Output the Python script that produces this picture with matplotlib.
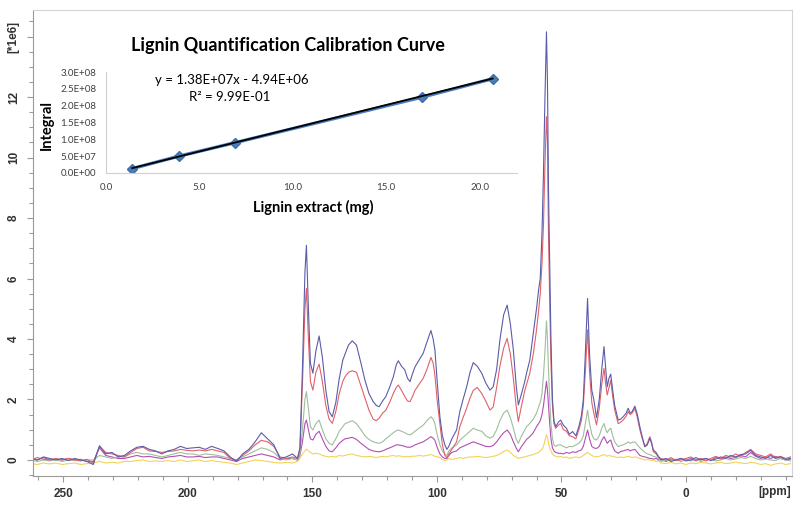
import numpy as np
import matplotlib.pyplot as plt
from matplotlib.ticker import MultipleLocator

# ---- spectrum data (ppm, intensity in units of 1e6) ----
ppm_a = [263.0, 260.5, 258.0, 255.5, 253.0, 250.5, 248.0, 245.5, 243.0, 240.5,
         238.0, 235.5, 233.0, 230.5, 228.0, 225.5, 223.0, 220.5, 218.0, 215.5,
         213.0, 210.5, 208.0, 205.5, 203.0, 200.5, 198.0, 195.5, 193.0, 190.5,
         188.0, 185.5, 183.0, 180.5, 178.0, 175.5, 173.0, 170.5, 168.0, 165.5,
         163.0, 160.5, 158.0]
ppm_b = [156.0, 155.0, 154.0, 153.0, 152.4, 151.6, 150.8, 149.8, 148.6, 147.3,
         146.0, 144.6, 143.3, 142.0, 140.6, 139.2, 137.8, 136.9, 135.5, 134.0,
         132.3, 130.5, 128.9, 127.3, 125.6, 124.3, 123.2, 121.8, 120.5, 119.0,
         117.5, 116.3, 115.5, 114.2, 112.9, 111.8, 110.8, 109.8, 108.8, 107.2,
         105.5, 104.0, 102.4, 101.5, 100.8, 99.8, 98.8, 97.8, 96.8, 96.0,
         95.2, 94.0, 92.1, 90.8, 89.5, 88.1, 86.7, 85.4, 83.8, 82.0,
         80.4, 78.7, 77.4, 76.0, 74.7, 73.2, 71.8, 70.5, 69.3, 68.2,
         67.3, 66.0, 64.7, 64.0, 62.7, 61.3, 60.0, 59.2, 58.5, 57.8,
         57.2, 56.6, 56.0, 55.6, 55.2, 54.7, 54.2, 53.6, 53.0, 52.3,
         51.2, 50.3, 49.2, 48.0, 46.8, 45.5, 44.2, 43.0, 42.0, 41.2,
         40.4, 39.5, 38.7, 37.8, 37.0, 35.9, 34.8, 33.8, 32.9, 32.2,
         31.6, 30.9, 30.2, 29.4, 28.6, 27.2, 26.2, 25.2, 24.0, 23.2,
         22.4, 21.6, 20.5, 19.5, 18.5, 17.5, 16.5, 15.5, 14.5, 13.8,
         13.1, 12.0, 11.0]
ppm_c = [10, 8, 6, 4, 2, 0, -2, -4, -6, -8, -10, -12, -14, -16, -18, -20,
         -22, -24, -26, -28, -30, -32, -34, -36, -38, -40, -42]

blue = ([0.05, 0.0, 0.1, 0.05, 0.0, 0.05, -0.02, 0.05, 0.0, -0.05,
         -0.15, 0.47, 0.2, 0.25, 0.1, 0.15, 0.3, 0.42, 0.45, 0.35,
         0.3, 0.2, 0.3, 0.35, 0.45, 0.38, 0.4, 0.42, 0.35, 0.45,
         0.38, 0.3, 0.1, -0.05, 0.2, 0.35, 0.6, 0.9, 0.7, 0.5,
         0.05, 0.1, 0.2]
        + [0.05, 0.4, 3.0, 6.2, 7.1, 5.0, 3.2, 2.87, 3.6, 4.1,
           3.4, 2.3, 1.6, 1.43, 1.9, 2.7, 3.3, 3.5, 3.8, 3.94,
           3.8, 3.2, 2.64, 2.2, 1.93, 1.8, 1.76, 1.95, 2.1, 2.4,
           2.75, 3.15, 3.28, 3.1, 2.98, 2.7, 2.59, 2.85, 3.08, 3.3,
           3.53, 3.9, 4.28, 4.0, 3.64, 2.5, 1.43, 0.8, 0.5, 0.35,
           0.45, 0.7, 0.99, 1.6, 2.0, 2.4, 2.9, 3.22, 3.1, 2.87,
           2.55, 2.31, 2.42, 3.0, 3.97, 4.8, 5.12, 4.5, 3.64, 2.5,
           1.82, 2.2, 2.6, 2.87, 3.3, 4.19, 5.0, 5.6, 6.0, 7.5,
           9.5, 12.0, 14.16, 12.5, 9.0, 6.5, 4.0, 2.0, 1.3, 1.1,
           1.25, 1.32, 1.15, 1.05, 0.85, 0.94, 0.8, 1.1, 1.45, 2.0,
           3.5, 5.34, 3.5, 2.3, 2.0, 1.4, 2.0, 3.0, 3.75, 3.0,
           2.42, 2.7, 2.84, 2.3, 1.8, 1.32, 1.35, 1.43, 1.55, 1.71,
           1.55, 1.6, 1.78, 1.5, 1.1, 0.75, 0.44, 0.5, 0.72, 0.55,
           0.33, 0.25, 0.11]
        + [0.0, 0.05, -0.05, 0.0, 0.05, -0.03, 0.0, 0.08, 0.0, 0.05,
           -0.02, 0.03, 0.1, 0.05, 0.15, 0.1, 0.18, 0.2, 0.32, 0.15,
           0.1, 0.05, 0.15, 0.05, 0.1, 0.02, 0.05])

red = ([0.0, 0.08, 0.02, 0.0, 0.05, 0.0, 0.05, 0.0, -0.03, 0.02,
        -0.1, 0.45, 0.25, 0.2, 0.15, 0.1, 0.25, 0.38, 0.42, 0.3,
        0.28, 0.25, 0.28, 0.3, 0.35, 0.32, 0.3, 0.33, 0.3, 0.35,
        0.3, 0.25, 0.05, 0.0, 0.15, 0.3, 0.5, 0.65, 0.6, 0.45,
        0.1, 0.05, 0.1]
       + [0.05, 0.35, 2.5, 5.0, 5.67, 4.0, 2.6, 2.31, 2.9, 3.17,
          2.6, 1.8, 1.35, 1.21, 1.6, 2.2, 2.6, 2.75, 2.9, 2.95,
          2.9, 2.45, 2.05, 1.65, 1.35, 1.3, 1.38, 1.55, 1.65, 1.9,
          2.2, 2.4, 2.48, 2.3, 2.1, 1.95, 1.93, 2.1, 2.3, 2.5,
          2.7, 3.0, 3.39, 3.2, 2.8, 1.9, 1.21, 0.5, 0.15, 0.07,
          0.2, 0.35, 0.6, 1.1, 1.4, 1.7, 2.05, 2.3, 2.4, 2.2,
          1.95, 1.65, 1.75, 2.4, 3.1, 3.7, 4.02, 3.5, 2.7, 1.8,
          1.27, 1.8, 2.3, 2.5, 2.87, 3.5, 4.3, 4.9, 5.5, 6.5,
          7.8, 9.8, 11.35, 10.5, 7.5, 5.2, 3.2, 1.8, 1.2, 1.05,
          1.15, 1.21, 1.0, 0.95, 0.8, 0.77, 0.7, 1.0, 1.3, 1.8,
          2.9, 4.3, 2.9, 1.9, 1.55, 1.16, 1.7, 2.5, 3.03, 2.5,
          2.15, 2.4, 2.64, 2.1, 1.65, 1.2, 1.25, 1.32, 1.45, 1.6,
          1.5, 1.55, 1.7, 1.4, 1.0, 0.7, 0.44, 0.55, 0.77, 0.6,
          0.28, 0.2, 0.1]
       + [0.05, 0.0, 0.08, -0.02, 0.0, 0.05, 0.1, 0.0, 0.05, -0.03,
          0.05, 0.12, 0.05, 0.15, 0.1, 0.2, 0.12, 0.25, 0.35, 0.2,
          0.15, 0.1, 0.2, 0.08, 0.12, 0.05, 0.1])

green = ([0.0, -0.05, 0.0, -0.03, 0.0, -0.05, 0.0, -0.02, 0.0, 0.0,
          0.0, 0.15, 0.1, 0.05, 0.1, 0.1, 0.2, 0.25, 0.2, 0.2,
          0.15, 0.1, 0.15, 0.2, 0.25, 0.2, 0.2, 0.15, 0.2, 0.18,
          0.15, 0.1, 0.05, 0.0, 0.1, 0.2, 0.3, 0.4, 0.35, 0.25,
          0.05, 0.0, 0.05]
         + [0.0, 0.2, 1.0, 2.0, 2.26, 1.7, 1.1, 0.99, 1.2, 1.32,
            1.0, 0.7, 0.55, 0.5, 0.7, 0.95, 1.1, 1.2, 1.25, 1.3,
            1.2, 1.0, 0.8, 0.68, 0.6, 0.57, 0.55, 0.6, 0.7, 0.8,
            0.9, 0.97, 0.99, 0.95, 0.9, 0.85, 0.83, 0.88, 0.95, 1.05,
            1.15, 1.3, 1.43, 1.35, 1.2, 0.8, 0.5, 0.3, 0.2, 0.15,
            0.3, 0.4, 0.5, 0.65, 0.75, 0.85, 0.95, 1.05, 0.99, 0.95,
            0.8, 0.72, 0.78, 1.0, 1.3, 1.55, 1.65, 1.4, 1.05, 0.7,
            0.55, 0.8, 1.0, 1.1, 1.21, 1.35, 1.55, 1.75, 1.9, 2.2,
            2.8, 3.6, 4.6, 4.0, 3.0, 2.0, 1.2, 0.7, 0.5, 0.45,
            0.5, 0.5, 0.45, 0.4, 0.45, 0.44, 0.5, 0.55, 0.65, 0.8,
            1.2, 1.65, 1.2, 0.85, 0.7, 0.66, 0.8, 1.05, 1.21, 1.0,
            0.9, 1.0, 1.05, 0.8, 0.6, 0.44, 0.48, 0.5, 0.55, 0.6,
            0.55, 0.58, 0.6, 0.5, 0.4, 0.33, 0.25, 0.2, 0.18, 0.15,
            0.12, 0.1, 0.05]
         + [-0.05, 0.0, -0.02, 0.03, -0.05, 0.0, -0.03, 0.02, -0.05, 0.0,
            0.02, -0.03, 0.0, 0.05, 0.0, 0.03, 0.08, 0.05, 0.12, 0.05,
            0.0, 0.03, 0.0, -0.02, 0.05, 0.0, -0.03])

purple = ([0.05, 0.0, 0.08, 0.0, 0.03, 0.0, 0.05, 0.0, 0.02, -0.05,
           -0.05, 0.4, 0.15, 0.1, 0.05, 0.05, 0.1, 0.15, 0.1, 0.12,
           0.08, 0.05, 0.1, 0.12, 0.15, 0.1, 0.1, 0.12, 0.08, 0.1,
           0.1, 0.05, 0.0, -0.05, 0.05, 0.1, 0.15, 0.2, 0.15, 0.1,
           0.0, 0.05, 0.05]
          + [0.0, 0.15, 0.6, 1.2, 1.32, 1.0, 0.7, 0.66, 0.85, 0.95,
             0.7, 0.45, 0.3, 0.27, 0.4, 0.55, 0.65, 0.7, 0.72, 0.75,
             0.68, 0.55, 0.45, 0.35, 0.3, 0.28, 0.27, 0.3, 0.35, 0.4,
             0.45, 0.5, 0.5, 0.48, 0.45, 0.42, 0.42, 0.45, 0.5, 0.55,
             0.6, 0.68, 0.77, 0.72, 0.65, 0.4, 0.2, 0.1, 0.05, 0.05,
             0.15, 0.25, 0.3, 0.4, 0.45, 0.5, 0.55, 0.6, 0.55, 0.5,
             0.45, 0.44, 0.48, 0.6, 0.75, 0.9, 0.99, 0.85, 0.6, 0.4,
             0.27, 0.45, 0.6, 0.68, 0.77, 0.9, 1.1, 1.2, 1.3, 1.5,
             1.8, 2.2, 2.6, 2.3, 1.8, 1.2, 0.7, 0.4, 0.3, 0.25,
             0.22, 0.22, 0.2, 0.25, 0.22, 0.27, 0.25, 0.3, 0.33, 0.45,
             0.7, 0.99, 0.7, 0.45, 0.4, 0.38, 0.45, 0.65, 0.77, 0.65,
             0.55, 0.62, 0.66, 0.45, 0.3, 0.22, 0.28, 0.3, 0.33, 0.35,
             0.3, 0.33, 0.35, 0.25, 0.15, 0.12, 0.1, 0.08, 0.05, 0.05,
             0.03, 0.05, 0.0]
          + [0.02, -0.05, 0.03, 0.0, 0.05, 0.0, 0.05, -0.03, 0.02, 0.05,
             0.0, 0.08, 0.03, 0.1, 0.05, 0.08, 0.15, 0.1, 0.25, 0.12,
             0.05, 0.1, 0.05, 0.12, 0.05, 0.0, 0.03])

yellow = ([-0.12, -0.15, -0.1, -0.13, -0.1, -0.15, -0.12, -0.1, -0.15, -0.12,
           -0.1, -0.05, -0.1, -0.08, -0.1, -0.05, -0.05, -0.02, 0.0, -0.05,
           -0.03, -0.05, -0.02, -0.05, 0.0, -0.05, -0.03, 0.0, -0.05, -0.02,
           -0.05, -0.08, -0.1, -0.15, -0.1, -0.05, 0.0, -0.02, -0.05, -0.08,
           -0.1, -0.08, -0.1]
          + [-0.05, 0.05, 0.2, 0.3, 0.36, 0.3, 0.25, 0.2, 0.22, 0.2,
             0.15, 0.12, 0.1, 0.12, 0.1, 0.15, 0.13, 0.15, 0.18, 0.2,
             0.15, 0.12, 0.1, 0.12, 0.1, 0.08, 0.1, 0.12, 0.1, 0.13,
             0.15, 0.12, 0.14, 0.12, 0.1, 0.12, 0.1, 0.13, 0.12, 0.15,
             0.13, 0.15, 0.18, 0.15, 0.12, 0.1, 0.08, 0.02, -0.02, 0.0,
             0.05, 0.02, 0.05, 0.08, 0.05, 0.08, 0.1, 0.1, 0.12, 0.1,
             0.08, 0.1, 0.12, 0.15, 0.2, 0.28, 0.33, 0.25, 0.15, 0.1,
             0.05, 0.08, 0.1, 0.12, 0.15, 0.18, 0.22, 0.25, 0.3, 0.35,
             0.45, 0.65, 0.83, 0.75, 0.55, 0.4, 0.3, 0.2, 0.15, 0.12,
             0.1, 0.12, 0.08, 0.1, 0.05, 0.08, 0.1, 0.08, 0.1, 0.15,
             0.2, 0.25, 0.2, 0.15, 0.12, 0.1, 0.12, 0.15, 0.18, 0.15,
             0.12, 0.15, 0.13, 0.12, 0.1, 0.08, 0.1, 0.08, 0.1, 0.12,
             0.1, 0.08, 0.1, 0.08, 0.05, 0.03, 0.0, 0.02, 0.0, -0.02,
             0.0, -0.05, -0.03]
          + [-0.1, -0.12, -0.08, -0.13, -0.1, -0.15, -0.1, -0.12, -0.08, -0.1,
             -0.13, -0.1, -0.08, -0.12, -0.1, -0.07, -0.1, -0.12, -0.08, -0.1,
             -0.15, -0.12, -0.18, -0.13, -0.1, -0.15, -0.12])

ppm = ppm_a + ppm_b + ppm_c

x_ticks = [250, 200, 150, 100, 50, 0]
y_ticks = [0, 2, 4, 6, 8, 10, 12, 14]
y_labels = ['0', '2', '4', '6', '8', '10', '12', '[*1e6]']

# ---- calibration (inset) data ----
mass = [1.4, 3.9, 6.9, 16.9, 20.7]
integral = [1.3e7, 5.0e7, 9.0e7, 2.25e8, 2.8e8]
slope, intercept = 1.38e7, -4.94e6
cal_xticks = [0, 5, 10, 15, 20]
cal_xlabels = ['0.0', '5.0', '10.0', '15.0', '20.0']
cal_yticks = [0, 5e7, 1e8, 1.5e8, 2e8, 2.5e8, 3e8]
cal_ylabels = ['0.0E+00', '5.0E+07', '1.0E+08', '1.5E+08', '2.0E+08', '2.5E+08', '3.0E+08']

W, H = 800, 507
fig = plt.figure(figsize=(W / 100, H / 100), dpi=100)

# main spectrum axes
ax = fig.add_axes([33 / W, 1 - 476 / H, (792 - 33) / W, (476 - 10) / H])
series = [(yellow, '#f2d35c'), (purple, '#b24fb5'), (green, '#9dbf9d'),
          (red, '#e2606a'), (blue, '#5a5caa')]
for vals, col in series:
    ax.plot(ppm, vals, color=col, lw=0.8)

ax.set_xlim(262.2, -42.6)
ax.set_ylim(-0.53, 14.88)
ax.set_xticks(x_ticks)
ax.set_xticklabels([str(t) for t in x_ticks])
ax.xaxis.set_minor_locator(MultipleLocator(10))
ax.set_yticks(y_ticks)
ax.set_yticklabels(y_labels, rotation=90, va='center')
ax.yaxis.set_minor_locator(MultipleLocator(0.5))
for lab in ax.get_xticklabels() + ax.get_yticklabels():
    lab.set_fontweight('bold')
    lab.set_family('Liberation Sans')
ax.tick_params(which='major', length=4.5, width=0.8, color='#9a9a9a',
               labelsize=8.5, labelcolor='#333333')
ax.tick_params(which='minor', length=3, width=0.8, color='#9a9a9a')
ax.tick_params(axis='x', pad=4)
ax.tick_params(axis='y', pad=5)
for side in ['left', 'bottom']:
    ax.spines[side].set_color('#9a9a9a')
for side in ['top', 'right']:
    ax.spines[side].set_color('#d4d4d4')
ax.text(-35.5, -0.034, '[ppm]', transform=ax.get_xaxis_transform(),
        ha='center', va='center', fontsize=8.5, fontweight='bold',
        family='Liberation Sans', color='#333333')

# inset calibration curve
ins = fig.add_axes([106 / W, 1 - 173 / H, (517 - 106) / W, (173 - 72) / H])
ins.patch.set_alpha(0)
ins.plot(mass, integral, color='#4a7ebb', lw=2.4, marker='D', ms=5,
         mfc='#4a7ebb', mec='#3d6ea8', zorder=2)
xs = np.array([mass[0], mass[-1]])
ins.plot(xs, slope * xs + intercept, color='black', lw=1.3, zorder=3)
ins.set_xlim(0, 22)
ins.set_ylim(0, 3e8)
ins.set_xticks(cal_xticks)
ins.set_xticklabels(cal_xlabels)
ins.set_yticks(cal_yticks)
ins.set_yticklabels(cal_ylabels)
for lab in ins.get_xticklabels() + ins.get_yticklabels():
    lab.set_family('Lato')
ins.tick_params(length=0, labelsize=7, labelcolor='#404040')
ins.tick_params(axis='x', pad=7)
ins.tick_params(axis='y', pad=7)
for side in ['top', 'right']:
    ins.spines[side].set_visible(False)
for side in ['left', 'bottom']:
    ins.spines[side].set_color('#d0d0d0')

fig.text(288 / W, 1 - 45 / H, 'Lignin Quantification Calibration Curve',
         ha='center', va='center', fontsize=13, fontweight='bold', family='Lato')
fig.text(47 / W, 1 - 125 / H, 'Integral', rotation=90, ha='center', va='center',
         fontsize=10.5, fontweight='bold', family='Lato')
fig.text(313 / W, 1 - 207 / H, 'Lignin extract (mg)', ha='center', va='center',
         fontsize=10.5, fontweight='bold', family='Lato')
fig.text(232 / W, 1 - 80 / H, 'y = 1.38E+07x - 4.94E+06', ha='center',
         va='center', fontsize=9.5, family='Lato')
fig.text(230 / W, 1 - 97 / H, 'R² = 9.99E-01', ha='center', va='center',
         fontsize=9.5, family='Lato')

fig.savefig('out.png', dpi=100)
